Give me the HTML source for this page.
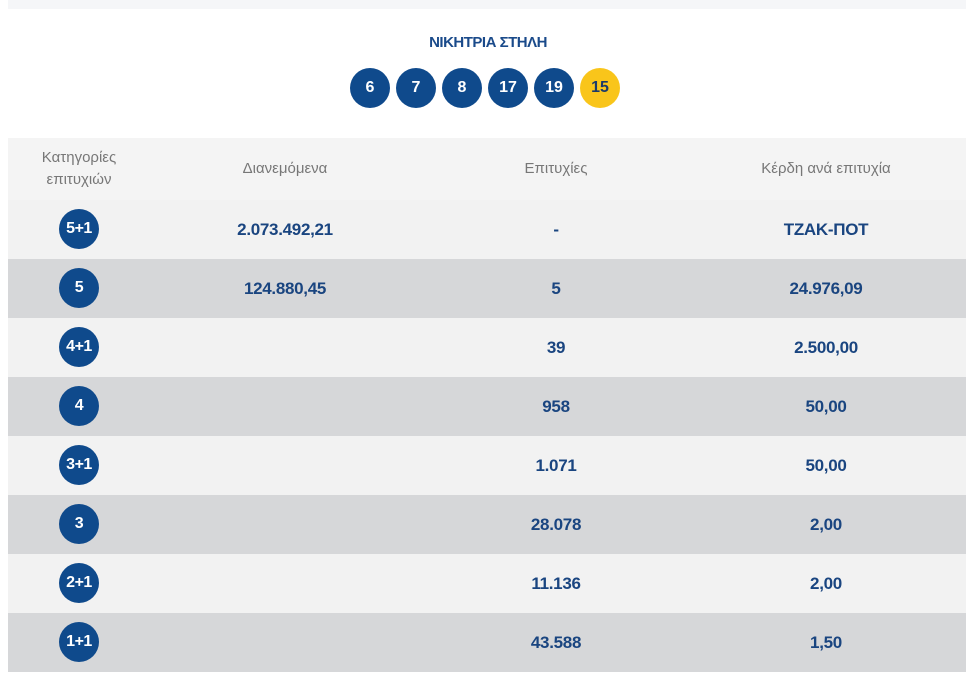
<!DOCTYPE html>
<html><head><meta charset="utf-8"><style>
body{margin:0;width:976px;height:693px;background:#fff;font-family:"Liberation Sans",sans-serif;position:relative;overflow:hidden}
.top{position:absolute;left:8px;top:0;width:958px;height:9px;background:#f5f6f8}
.title{position:absolute;top:34px;left:0;width:976px;text-align:center;color:#1a4a8a;font-weight:bold;font-size:15px;letter-spacing:-0.5px}
.ball{position:absolute;top:68px;width:40px;height:40px;border-radius:50%;background:#0f4a8c;color:#fff;font-weight:bold;font-size:16px;text-align:center;line-height:40px}
.y{background:#f9c51a;color:#1a3a6a}
.row{position:absolute;left:8px;width:958px;height:59px}
.c{position:absolute;top:0;height:59px;line-height:59px;text-align:center;color:#1a4580;font-weight:bold;font-size:17px;letter-spacing:-0.3px;transform:translateX(-50%);white-space:nowrap}
.h{color:#777;font-weight:normal;font-size:15px;letter-spacing:0}
.cat{position:absolute;left:51px;top:9px;width:40px;height:40px;border-radius:50%;background:#0f4a8c;color:#fff;font-weight:bold;font-size:16px;letter-spacing:-0.5px;text-align:center;line-height:40px}
</style></head><body>
<div class="top"></div>
<div class="title">ΝΙΚΗΤΡΙΑ ΣΤΗΛΗ</div>
<div class="ball" style="left:350px">6</div>
<div class="ball" style="left:396px">7</div>
<div class="ball" style="left:442px">8</div>
<div class="ball" style="left:488px">17</div>
<div class="ball" style="left:534px">19</div>
<div class="ball y" style="left:580px">15</div>

<div class="row" style="top:138px;height:62px;background:#f4f4f4">
<div class="c h" style="left:71px;line-height:22px;top:9px;height:44px">Κατηγορίες<br>επιτυχιών</div>
<div class="c h" style="left:277px;line-height:62px;height:62px">Διανεμόμενα</div>
<div class="c h" style="left:548px;line-height:62px;height:62px">Επιτυχίες</div>
<div class="c h" style="left:818px;line-height:62px;height:62px">Κέρδη ανά επιτυχία</div>
</div>

<div class="row" style="top:200px;background:#f2f2f2"><div class="cat">5+1</div><div class="c" style="left:277px">2.073.492,21</div><div class="c" style="left:548px">-</div><div class="c" style="left:818px">ΤΖΑΚ-ΠΟΤ</div></div>
<div class="row" style="top:259px;background:#d6d7d9"><div class="cat">5</div><div class="c" style="left:277px">124.880,45</div><div class="c" style="left:548px">5</div><div class="c" style="left:818px">24.976,09</div></div>
<div class="row" style="top:318px;background:#f2f2f2"><div class="cat">4+1</div><div class="c" style="left:548px">39</div><div class="c" style="left:818px">2.500,00</div></div>
<div class="row" style="top:377px;background:#d6d7d9"><div class="cat">4</div><div class="c" style="left:548px">958</div><div class="c" style="left:818px">50,00</div></div>
<div class="row" style="top:436px;background:#f2f2f2"><div class="cat">3+1</div><div class="c" style="left:548px">1.071</div><div class="c" style="left:818px">50,00</div></div>
<div class="row" style="top:495px;background:#d6d7d9"><div class="cat">3</div><div class="c" style="left:548px">28.078</div><div class="c" style="left:818px">2,00</div></div>
<div class="row" style="top:554px;background:#f2f2f2"><div class="cat">2+1</div><div class="c" style="left:548px">11.136</div><div class="c" style="left:818px">2,00</div></div>
<div class="row" style="top:613px;background:#d6d7d9"><div class="cat">1+1</div><div class="c" style="left:548px">43.588</div><div class="c" style="left:818px">1,50</div></div>
</body></html>
